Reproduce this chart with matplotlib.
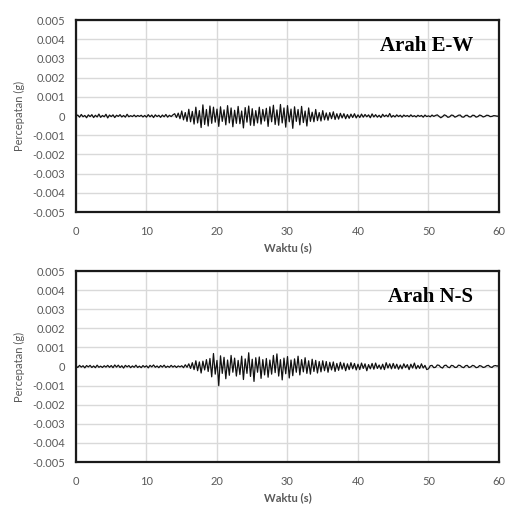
import numpy as np
import matplotlib
matplotlib.use("Agg")
import matplotlib.pyplot as plt

# Acceleration records, values in units of 1e-4 g, sampled every 0.25 s from 0 to 60 s
ew_acc = [
    0, 0.5, -0.6, 0.8, -0.4, 0.3, -0.9, 0.6, -0.3, 0.7, -0.8, 0.4, -0.5, 1.0, -0.7, 0.3, -0.4, 0.9, -1.0, 0.5,
    -0.3, 0.6, -0.8, 0.4, -0.2, 0.7, -0.5, 0.3, -0.6, 0.9, -0.4, 0.2, -0.3, 0.5, -0.4, 0.3, -0.2, 0.4, -0.5, 0.3,
    -0.6, 0.7, -0.4, 0.5, -0.8, 0.6, -0.3, 0.4, -0.7, 0.5, -0.4, 0.8, -0.6, 0.4, -0.3, 0.6,
    1.2, -0.8, 1.5, -1.4, 2.6, -2.0, 1.8, -2.8,
    3.5, -3.0, 2.4, -4.2, 4.6, -3.6, 2.8, -6.0, 5.8, -4.4, 3.4, -5.2, 5.2, -3.8, 4.6, -3.2,
    3.6, -5.4, 4.8, -2.8, 3.2, -4.6, 5.4, -3.6, 4.2, -5.6, 3.0, -3.8, 5.0, -4.0, 2.6, -6.2,
    4.4, -3.2, 5.2, -4.8, 3.8, -5.0, 2.8, -3.6, 4.6, -4.2, 3.4, -2.6, 4.0, -5.4, 4.8, -3.0,
    5.6, -4.4, 3.2, -4.8, 6.0, -3.6, 4.2, -5.8, 5.4, -3.0, 3.6, -6.4, 4.8, -2.8, 3.4, -4.6,
    5.0, -3.4, 2.6, -5.2, 4.2, -2.8, 2.0, -3.0, 3.4, -2.4, 1.8, -2.6, 2.8, -2.0, 1.6, -2.2,
    1.8, -1.4, 2.2, -1.8, 1.2, -1.6, 1.4, -1.0, 1.2, -1.4, 0.8, -1.2, 1.0, -0.8, 1.2, -1.0,
    0.6, -0.8, 1.0, -0.6, 0.8, -0.4, 0.6, -0.9, 1.1, -0.5, 0.7, -0.6, 0.4, -0.8, 0.9, -0.3,
    0.5, -0.4, 1.3, -0.6, 0.3, -0.5, 0.6, -0.3, 0.4, -0.6, 0.5, -0.2, 0.3, -0.4, 0.6, -0.3,
    0.2, -0.5, 0.4, -0.2, 0.3, -0.6, 0.5, -0.3, 0.1, -0.4, 0.5, -0.2, 0.3, 0.6, -0.2, -0.9,
    -0.3, 0.6, 0.2, -0.7, -0.4, 0.5, 0.3, -0.6, -0.2, 0.4, 0.5, -0.5, -0.6, 0.3, 0.4, -0.4,
    -0.5, 0.4, 0.3, -0.6, -0.3, 0.5, 0.2, -0.5, -0.2, 0.4, 0.3, -0.3, -0.2, 0.2, 0.1, -0.1, 0.0,
]

ns_acc = [
    0.3, -0.5, 0.6, -0.3, 0.4, -0.7, 0.5, -0.2, 0.6, -0.5, 0.3, -0.6, 0.7, -0.4, 0.2, -0.5, 0.4, -0.3, 0.6, -0.4,
    0.5, -0.6, 0.8, -0.3, 0.7, -0.5, 0.4, -0.8, 0.6, -0.2, 0.5, -0.6, 0.3, -0.4, 0.7, -0.5, 0.2, -0.6, 0.5, -0.3,
    0.4, -0.7, 0.6, -0.2, 0.8, -0.4, 0.3, -0.6, 0.5, -0.3, 0.7, -0.5, 0.2, -0.4, 0.6, -0.3, 0.4, -0.5, 0.3, -0.2,
    0.4, -0.6, 0.9, -0.4, 1.4, -1.0, 2.0, -1.6, 3.0, -2.2, 2.4, -3.4, 2.8, -1.8, 3.6, -2.6,
    4.2, -5.4, 6.8, -4.0, 3.2, -10.0, 5.6, -3.6, 4.8, -6.4, 3.4, -4.6, 5.8, -3.0, 4.4, -5.0,
    3.2, -4.2, 5.4, -6.8, 4.0, -3.6, 7.2, -5.2, 3.8, -7.8, 4.6, -3.0, 5.0, -6.2, 3.6, -4.4,
    4.2, -5.6, 3.4, -4.0, 5.8, -3.2, 6.6, -5.0, 3.6, -7.0, 4.4, -3.8, 5.2, -6.0, 3.4, -4.8,
    4.0, -3.0, 5.4, -4.4, 3.6, -2.8, 4.6, -3.6, 3.0, -4.0, 3.8, -2.6, 3.2, -3.4, 2.6, -2.8,
    3.0, -2.2, 2.6, -3.0, 2.2, -1.8, 2.4, -2.6, 1.6, -2.0, 2.2, -1.4, 1.8, -2.2, 1.4, -1.6, 2.0, -1.2, 1.6, -1.8,
    1.2, -1.6, 1.8, -1.0, 1.4, -2.2, 1.0, -1.2, 1.6, -1.4, 1.8, -1.0, 0.8, -1.4, 1.2, -1.6, 2.0, -0.8, 1.4, -1.2,
    1.6, -1.0, 1.2, -1.4, 0.8, -1.2, 1.4, -0.6, 1.0, -1.6, 1.2, -0.8, 1.8, -1.2, 0.6, -1.0, 1.4, -0.8, 0.6, -1.6,
    -1.2, 0.4, 0.6, -0.6, -0.4, 0.8, 0.6, -0.4, -0.8, 0.5, 0.7, -0.3, -0.6, 0.6, 0.4, -0.5, -0.4, 0.7, 0.5, -0.3,
    -0.6, 0.4, 0.6, -0.5, -0.2, 0.6, 0.3, -0.6, -0.4, 0.5, 0.2, -0.5, -0.3, 0.4, 0.6, -0.2, -0.5, 0.3, 0.5, 0.2, 0.6,
]

titles = ["Arah E-W", "Arah N-S"]
x_ticks = [0, 10, 20, 30, 40, 50, 60]
y_ticks = [-0.005, -0.004, -0.003, -0.002, -0.001, 0, 0.001, 0.002, 0.003, 0.004, 0.005]
y_labels = ["-0.005", "-0.004", "-0.003", "-0.002", "-0.001", "0",
            "0.001", "0.002", "0.003", "0.004", "0.005"]

plt.rcParams['font.family'] = ['Lato', 'DejaVu Sans']
grey = '#595959'

fig = plt.figure(figsize=(5.18, 5.13), dpi=100)
boxes = [[0.1467, 0.5867, 0.8166, 0.3743], [0.1467, 0.0994, 0.8166, 0.3723]]

for box, series, title in zip(boxes, [ew_acc, ns_acc], titles):
    ax = fig.add_axes(box)
    acc = np.array(series) * 1e-4
    t = np.linspace(0, 60, len(acc))
    ax.plot(t, acc, color='#111111', lw=0.9)

    ax.set_xlim(0, 60)
    ax.set_ylim(-0.005, 0.005)
    ax.set_xticks(x_ticks)
    ax.set_yticks(y_ticks)
    ax.set_yticklabels(y_labels)
    ax.grid(True, color='#d9d9d9', lw=1.0)
    ax.set_axisbelow(True)
    ax.tick_params(length=0, labelsize=8, labelcolor=grey)
    ax.tick_params(axis='y', pad=8)
    ax.tick_params(axis='x', pad=10)
    for s in ax.spines.values():
        s.set_color('#1a1a1a')
        s.set_linewidth(1.6)

    ax.set_xlabel("Waktu (s)", fontsize=8, color=grey, fontweight='bold', labelpad=4)
    ax.set_ylabel("Percepatan (g)", fontsize=8, color=grey, labelpad=5)
    ax.text(0.939, 0.865, title, transform=ax.transAxes, ha='right', va='center',
            fontsize=15, fontweight='bold', family='Liberation Serif')

fig.savefig("out.png", dpi=100)
